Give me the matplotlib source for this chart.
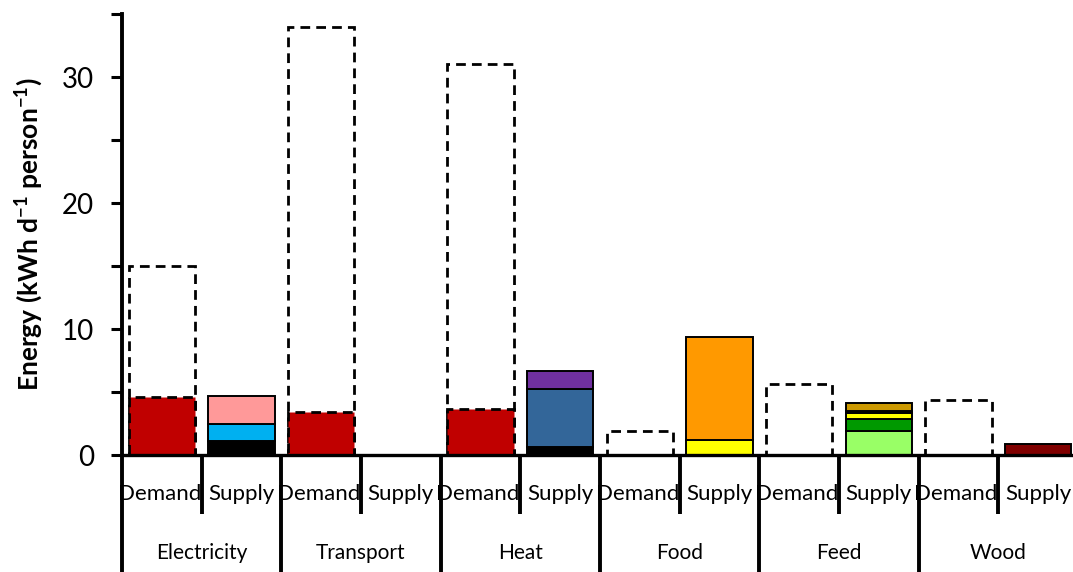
import matplotlib
matplotlib.use('Agg')
import matplotlib.pyplot as plt
import numpy as np

plt.rcParams['font.family'] = ['Lato', 'DejaVu Sans']
plt.rcParams['mathtext.fontset'] = 'custom'
plt.rcParams['mathtext.rm'] = 'Lato'
plt.rcParams['mathtext.bf'] = 'Lato:bold'

categories = ['Electricity', 'Transport', 'Heat', 'Food', 'Feed', 'Wood']
sides = ['Demand', 'Supply']

# total demand (dashed outline) and the part already met (red)
demand_total = [15, 34, 31, 1.9, 5.6, 4.4]
demand_met = [4.6, 3.4, 3.65, 0, 0, 0]

# supply stacks, bottom to top
elec_supply = [1.1, 1.4, 2.2]
transport_supply = []
heat_supply = [0.6, 4.65, 1.4]
food_supply = [1.2, 8.2]
feed_supply = [1.9, 0.95, 0.45, 0.2, 0.6]
wood_supply = [0.87]

elec_colors = ['#000000', '#00B0F0', '#FF9999']
transport_colors = []
heat_colors = ['#000000', '#336699', '#7030A0']
food_colors = ['#FFFF00', '#FF9900']
feed_colors = ['#99FF66', '#009900', '#FFFF00', '#1a1a00', '#CC9900']
wood_colors = ['#800000']

supplies = [elec_supply, transport_supply, heat_supply, food_supply, feed_supply, wood_supply]
supply_colors = [elec_colors, transport_colors, heat_colors, food_colors, feed_colors, wood_colors]

fig = plt.figure(figsize=(10.73, 5.72), dpi=100)
ax = fig.add_axes([122 / 1073, 117 / 572, 956 / 1073, 441 / 572])

width = 0.83
dash = (0, (3.5, 2.2))
x_dem = np.arange(len(categories)) * 2
x_sup = x_dem + 1

ax.bar(x_dem, demand_total, width, fill=False, edgecolor='black',
       linestyle=dash, linewidth=2.0, zorder=2)
ax.bar(x_dem, demand_met, width, color='#C00000', edgecolor='black',
       linestyle=dash, linewidth=2.0, zorder=3)

for xs, vals, cols in zip(x_sup, supplies, supply_colors):
    bottom = 0
    for v, c in zip(vals, cols):
        ax.bar(xs, v, width, bottom=bottom, color=c, edgecolor='black',
               linewidth=1.4, zorder=3)
        bottom += v

ax.set_xlim(-0.5, 2 * len(categories) - 0.5)
ax.set_ylim(0, 35)
ax.set_yticks([0, 10, 20, 30])
ax.set_yticks([5, 15, 25, 35], minor=True)
ax.set_xticks([])
ax.tick_params(axis='y', which='both', direction='out', length=8, width=2.2,
               labelsize=20, pad=12)
ax.set_ylabel(r'Energy (kWh d$^{\mathbf{-1}}$ person$^{\mathbf{-1}}$)',
              fontsize=19, fontweight='bold', labelpad=12)

for side in ['top', 'right']:
    ax.spines[side].set_visible(False)
ax.spines['left'].set_linewidth(2.8)
ax.spines['bottom'].set_linewidth(2.4)
ax.spines['bottom'].set_zorder(5)

# category table below the zero line
row_side = -3.1
row_cat = -7.8
side_shift = [-0.03, 0]
for i, cat in enumerate(categories):
    for j, side in enumerate(sides):
        ax.text(2 * i + j + side_shift[j], row_side, side, ha='center',
                va='center', fontsize=16, clip_on=False)
    ax.text(2 * i + 0.5, row_cat, cat, ha='center', va='center',
            fontsize=15, clip_on=False)

for k in range(2 * len(categories) + 1):
    xb = k - 0.5
    ybot = -4.7 if k % 2 else -10
    ax.plot([xb, xb], [0, ybot], color='black', linewidth=2.8,
            clip_on=False, solid_capstyle='butt', zorder=6)

fig.savefig('out.png', dpi=100)
